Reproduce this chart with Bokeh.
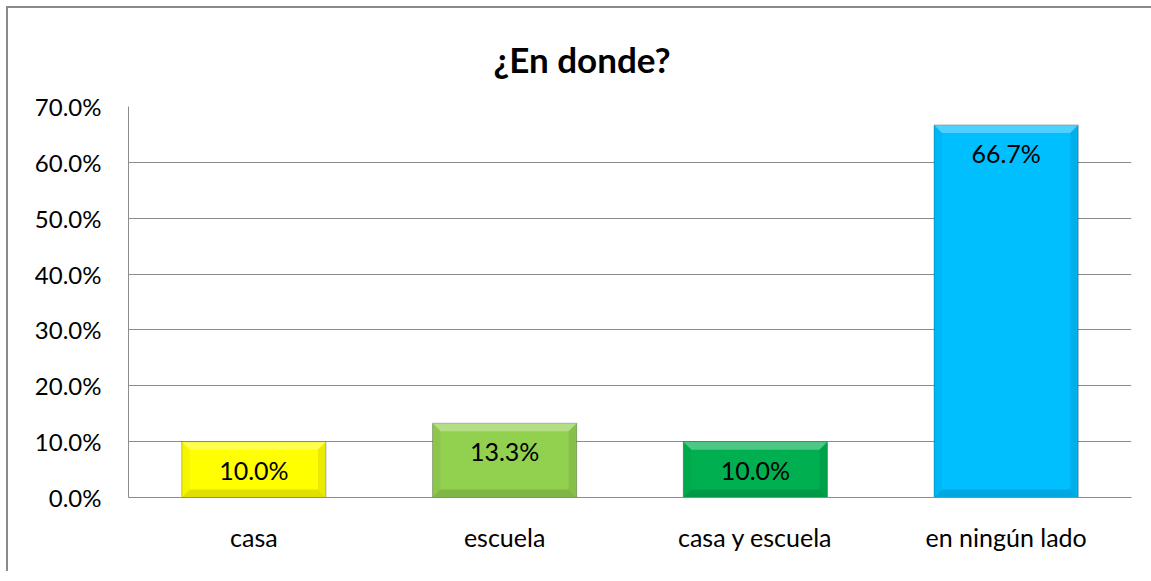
from bokeh.plotting import figure
from bokeh.models import Range1d, FixedTicker, NumeralTickFormatter, Title, ColumnDataSource
from bokeh.embed import file_html
from bokeh.resources import INLINE
from bokeh.core.properties import value

# ---- data ----
categories = ["casa", "escuela", "casa y escuela", "en ningún lado"]
values = [0.100, 0.133, 0.100, 0.667]
value_labels = ["10.0%", "13.3%", "10.0%", "66.7%"]
colors = ["#FFFF00", "#92D050", "#00B050", "#00BFFF"]
y_ticks = [0.0, 0.1, 0.2, 0.3, 0.4, 0.5, 0.6, 0.7]
title_text = "¿En donde?"

FONT = "Lato"
FS = "25px"
FRAME_W, FRAME_H = 1003, 391
BL, BR, BT, BB = 120, 20, 0, 74
Y_MAX = 0.7
BAR_W = 0.575

xs = [i + 0.5 for i in range(len(categories))]

p = figure(frame_width=FRAME_W, frame_height=FRAME_H,
           min_border_left=BL, min_border_right=BR, min_border_top=BT, min_border_bottom=BB,
           x_range=Range1d(0, len(categories)), y_range=Range1d(0, Y_MAX),
           output_backend="svg", toolbar_location=None)
p.title = Title(text=title_text, align="left", offset=365, text_font=FONT,
                text_font_style="bold", text_font_size="35px", text_color="black",
                standoff=54)
p.styles = {"border-left": "2px solid #898989", "border-top": "2px solid #898989",
            "margin-left": "6px", "margin-top": "6px"}
p.outline_line_color = None
p.background_fill_color = "white"
p.border_fill_color = "white"

# axes
p.yaxis.ticker = FixedTicker(ticks=y_ticks)
p.yaxis.formatter = NumeralTickFormatter(format="0.0%")
p.yaxis.major_tick_line_color = None
p.yaxis.minor_tick_line_color = None
p.yaxis.axis_line_color = "#8C8C8C"
p.yaxis.major_label_text_font = FONT
p.yaxis.major_label_text_font_size = "24px"
p.yaxis.major_label_text_color = "black"
p.yaxis.major_label_standoff = 21

p.xaxis.ticker = FixedTicker(ticks=xs)
p.xaxis.major_label_overrides = {x: c for x, c in zip(xs, categories)}
p.xaxis.major_tick_line_color = None
p.xaxis.minor_tick_line_color = None
p.xaxis.axis_line_color = "#8C8C8C"
p.xaxis.major_label_text_font = FONT
p.xaxis.major_label_text_font_size = FS
p.xaxis.major_label_text_color = "black"
p.xaxis.major_label_standoff = 18

p.xgrid.grid_line_color = None
p.ygrid.ticker = FixedTicker(ticks=y_ticks)
p.ygrid.grid_line_color = "#8C8C8C"
p.ygrid.grid_line_width = 1

# bars
src = ColumnDataSource(dict(x=xs, top=values, color=colors, label=value_labels))
p.vbar(x="x", top="top", bottom=0, width=BAR_W, fill_color="color",
       line_color="black", line_alpha=0.25, line_width=1, source=src)

# bevel overlays (computed from data; bevel size in px converted to data units)
bx = 8 / FRAME_W * len(categories)
by = 8 / FRAME_H * Y_MAX
tops_x, tops_y, bots_x, bots_y, lefts_x, lefts_y, rights_x, rights_y = [], [], [], [], [], [], [], []
for x, v in zip(xs, values):
    x0, x1 = x - BAR_W / 2, x + BAR_W / 2
    tops_x.append([x0, x1, x1 - bx, x0 + bx]); tops_y.append([v, v, v - by, v - by])
    bots_x.append([x0, x1, x1 - bx, x0 + bx]); bots_y.append([0, 0, by, by])
    lefts_x.append([x0, x0 + bx, x0 + bx, x0]); lefts_y.append([0, by, v - by, v])
    rights_x.append([x1, x1 - bx, x1 - bx, x1]); rights_y.append([0, by, v - by, v])
p.patches(tops_x, tops_y, fill_color="white", fill_alpha=0.3, line_color=None)
p.patches(bots_x, bots_y, fill_color="black", fill_alpha=0.12, line_color=None)
p.patches(lefts_x, lefts_y, fill_color="black", fill_alpha=0.04, line_color=None)
p.patches(rights_x, rights_y, fill_color="black", fill_alpha=0.08, line_color=None)

# value labels inside bars
p.text(x="x", y="top", text="label", source=src, text_align="center", text_baseline="middle",
       y_offset=28, text_font=value(FONT), text_font_size=FS, text_color="black")

open("out.html", "w").write(file_html(p, INLINE))
